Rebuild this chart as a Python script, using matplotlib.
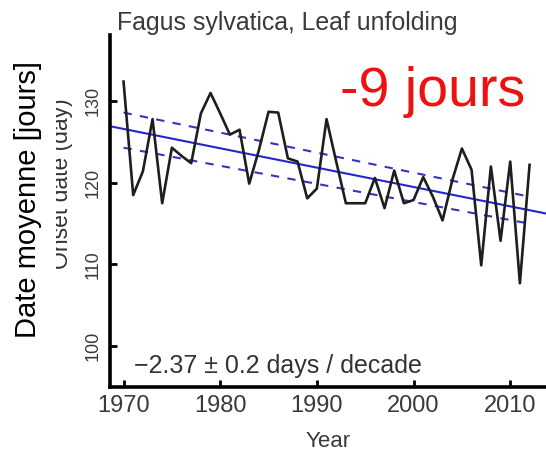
import matplotlib
matplotlib.use("Agg")
from matplotlib import pyplot as plt
from matplotlib.patches import Rectangle

# onset dates
years = list(range(1970, 2013))
onset = [132.4, 118.5, 121.4, 127.8, 117.5, 124.3, 123.3, 122.4, 128.5, 131.0,
         128.5, 125.9, 126.5, 119.9, 124.0, 128.7, 128.6, 123.0, 122.6, 118.1,
         119.3, 127.8, 122.6, 117.5, 117.5, 117.5, 120.6, 116.9, 121.5, 117.5,
         117.9, 120.7, 118.3, 115.4, 120.3, 124.2, 121.6, 109.9, 122.0, 112.9,
         122.6, 107.7, 122.2]

# linear trend and its band
trend_at_1970 = 126.6
trend_slope = -0.237
band_years = [1970, 2012]
band_upper = [128.6, 118.3]
band_lower = [124.3, 115.0]

xticks = [1970, 1980, 1990, 2000, 2010]
yticks = [100, 110, 120, 130]

plt.rcParams['font.family'] = ['Liberation Sans', 'DejaVu Sans']

W, H = 546, 458
fig = plt.figure(figsize=(W / 100, H / 100), dpi=100)
ax = fig.add_axes([110 / W, 1 - 387 / H, 436 / W, (387 - 35) / H])

xmin, xmax = 1968.6, 2013.7
ax.set_xlim(xmin, xmax)
ax.set_ylim(95.0, 138.1)

ax.plot(years, onset, color='#1e1e1e', lw=1.9, zorder=3)
trend_x = [xmin, xmax]
trend_y = [trend_at_1970 + trend_slope * (x - 1970) for x in trend_x]
ax.plot(trend_x, trend_y, color='#2626cc', lw=1.5, zorder=2, clip_on=False)
ax.plot(band_years, band_upper, color='#3535c0', lw=1.5, ls=(0, (4, 4)), zorder=2)
ax.plot(band_years, band_lower, color='#3535c0', lw=1.5, ls=(0, (4, 4)), zorder=2)

for s in ['top', 'right']:
    ax.spines[s].set_visible(False)
for s in ['left', 'bottom']:
    ax.spines[s].set_linewidth(2.6)
    ax.spines[s].set_color('black')

ax.set_xticks(xticks)
ax.set_yticks(yticks)
ax.tick_params(direction='in', length=5, width=2, color='black')
ax.tick_params(axis='x', pad=6, labelsize=17, labelcolor='#3a3a3a')
ax.tick_params(axis='y', pad=6, labelsize=13, labelcolor='#3a3a3a')
for lab in ax.get_yticklabels():
    lab.set_rotation(90)
    lab.set_va('center')

ax.set_xlabel('Year', fontsize=16, color='#3a3a3a', labelpad=10)

fig.text(134 / W, 1 - 366 / H, '\u22122.37 \u00b1 0.2 days / decade',
         fontsize=18, color='#333333', ha='left', va='center')

fig.text(117 / W, 1 - 30 / H, 'Fagus sylvatica, Leaf unfolding', fontsize=17.9,
         color='#3a3a3a', ha='left', va='baseline')
fig.text(340 / W, 1 - 106 / H, '-9 jours', fontsize=40, color='#ee1111',
         ha='left', va='baseline')

# old label, mostly hidden by the new one
fig.text(68 / W, 1 - 184 / H, 'Onset date (day)', fontsize=16.5, color='#333333',
         rotation=90, rotation_mode='anchor', ha='center', va='baseline', zorder=1)
fig.add_artist(Rectangle((0, 0), 56 / W, 1, transform=fig.transFigure,
                         facecolor='white', edgecolor='none', zorder=2))
fig.text(28 / W, 1 - 200 / H, 'Date moyenne [jours]', fontsize=21, color='black',
         rotation=90, ha='center', va='center', zorder=3)

fig.savefig('out.png', dpi=100)
